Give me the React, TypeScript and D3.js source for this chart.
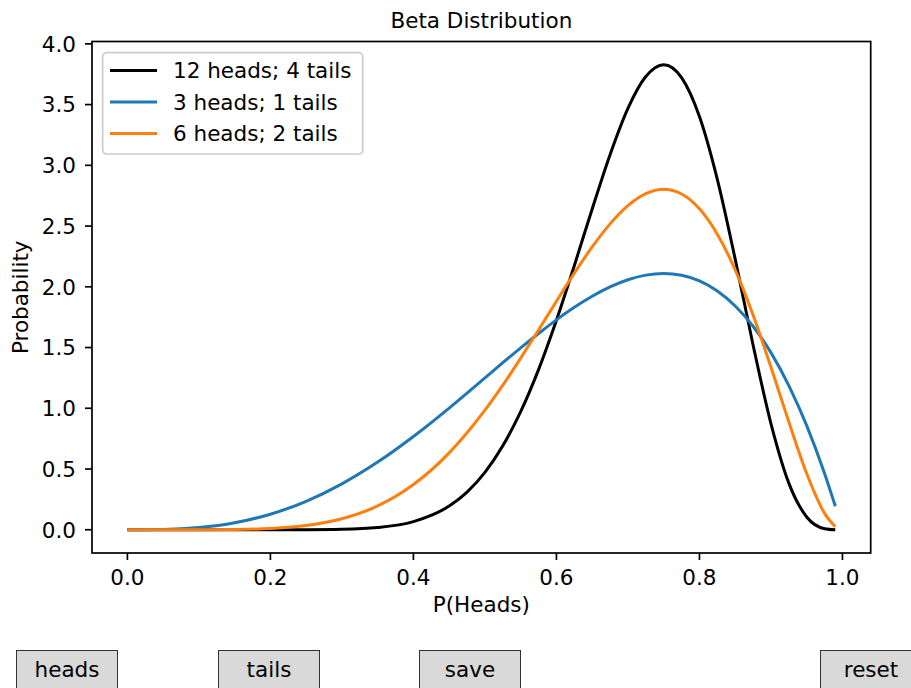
import React from "react";
import * as d3 from "d3";

const xs = [0, 0.05, 0.1, 0.15, 0.2, 0.25, 0.3, 0.35, 0.4, 0.45, 0.475, 0.5, 0.525, 0.55, 0.575, 0.6, 0.625, 0.65, 0.675, 0.7, 0.725, 0.75, 0.775, 0.8, 0.825, 0.85, 0.875, 0.9, 0.925, 0.95, 0.975, 0.99];
const black12h4t = [0, 0, 0, 0, 0.0001, 0.0006, 0.0039, 0.0187, 0.0673, 0.195, 0.31, 0.472, 0.691, 0.972, 1.318, 1.724, 2.174, 2.641, 3.088, 3.469, 3.731, 3.828, 3.722, 3.402, 2.885, 2.228, 1.521, 0.874, 0.384, 0.105, 0.009, 0.0003];
const blue3h1t = [0, 0.0024, 0.018, 0.0574, 0.128, 0.234, 0.378, 0.557, 0.768, 1.002, 1.125, 1.25, 1.375, 1.497, 1.616, 1.728, 1.831, 1.922, 1.999, 2.058, 2.096, 2.109, 2.095, 2.048, 1.965, 1.842, 1.675, 1.458, 1.187, 0.857, 0.463, 0.194];
const orange6h2t = [0, 0, 0.0002, 0.0021, 0.0103, 0.0346, 0.09, 0.196, 0.372, 0.633, 0.798, 0.984, 1.19, 1.413, 1.645, 1.881, 2.112, 2.328, 2.518, 2.668, 2.767, 2.803, 2.764, 2.642, 2.433, 2.139, 1.767, 1.339, 0.888, 0.463, 0.135, 0.024];

const seriesNames = ["12 heads; 4 tails", "3 heads; 1 tails", "6 heads; 2 tails"];
const seriesColors = ["#000000", "#1f77b4", "#ff7f0e"];
const xTicks = [0, 0.2, 0.4, 0.6, 0.8, 1.0];
const yTicks = [0, 0.5, 1.0, 1.5, 2.0, 2.5, 3.0, 3.5, 4.0];
const buttonLabels = ["heads", "tails", "save", "reset"];
const buttonLefts = [16, 218, 419, 820];

const W = 911;
const H = 688;
const FONT = "DejaVu Sans, sans-serif";
const FS = 21.5;

export default function App() {
  const left = 92, right = 870.7, top = 41.5, bottom = 553;
  const x = d3.scaleLinear().domain([-0.0495, 1.0395]).range([left, right]);
  const y = d3.scaleLinear().domain([-0.1914, 4.0194]).range([bottom, top]);
  const line = d3
    .line<[number, number]>()
    .x((d) => x(d[0]))
    .y((d) => y(d[1]))
    .curve(d3.curveMonotoneX);
  const series = [black12h4t, blue3h1t, orange6h2t];
  const cx = (left + right) / 2;
  const cy = (top + bottom) / 2;

  return (
    <svg
      width={W}
      height={H}
      style={{ position: "absolute", left: 0, top: 0, background: "#fff" }}
      fontFamily={FONT}
    >
      <rect x={0} y={0} width={W} height={H} fill="#fff" />
      <clipPath id="plotclip">
        <rect x={left} y={top} width={right - left} height={bottom - top} />
      </clipPath>
      <g clipPath="url(#plotclip)">
        {series.map((vals, i) => (
          <path
            key={i}
            d={line(xs.map((xv, j) => [xv, vals[j]] as [number, number])) || ""}
            fill="none"
            stroke={seriesColors[i]}
            strokeWidth={3}
            strokeLinejoin="round"
            strokeLinecap="butt"
          />
        ))}
      </g>
      <rect x={left} y={top} width={right - left} height={bottom - top} fill="none" stroke="#000" strokeWidth={1.7} />
      {xTicks.map((t) => (
        <g key={"x" + t}>
          <line x1={x(t)} x2={x(t)} y1={bottom} y2={bottom + 7} stroke="#000" strokeWidth={1.7} />
          <text x={x(t)} y={585} fontSize={FS} textAnchor="middle" fill="#000">
            {t.toFixed(1)}
          </text>
        </g>
      ))}
      {yTicks.map((t) => (
        <g key={"y" + t}>
          <line x1={left - 7} x2={left} y1={y(t)} y2={y(t)} stroke="#000" strokeWidth={1.7} />
          <text x={76} y={y(t) + 7.8} fontSize={FS} textAnchor="end" fill="#000">
            {t.toFixed(1)}
          </text>
        </g>
      ))}
      <text x={cx} y={27.5} fontSize={FS} textAnchor="middle" fill="#000">
        Beta Distribution
      </text>
      <text x={cx} y={612} fontSize={FS} textAnchor="middle" fill="#000">
        P(Heads)
      </text>
      <text
        transform={`translate(28,${cy}) rotate(-90)`}
        fontSize={FS}
        textAnchor="middle"
        fill="#000"
      >
        Probability
      </text>
      <rect x={102.7} y={52.7} width={260} height={101.3} rx={4} ry={4} fill="#fff" fillOpacity={0.8} stroke="#cccccc" strokeWidth={1.7} />
      {seriesNames.map((name, i) => {
        const ry = 70.5 + i * 31.5;
        return (
          <g key={name}>
            <line x1={110} x2={157} y1={ry} y2={ry} stroke={seriesColors[i]} strokeWidth={3} />
            <text x={173} y={ry + 7.8} fontSize={FS} fill="#000">
              {name}
            </text>
          </g>
        );
      })}
      {buttonLabels.map((b, i) => (
        <g key={b}>
          <rect x={buttonLefts[i] + 0.5} y={650.5} width={101} height={50} fill="#d9d9d9" stroke="#333" strokeWidth={1} />
          <text x={buttonLefts[i] + 51} y={676.5} fontSize={FS} textAnchor="middle" fill="#000">
            {b}
          </text>
        </g>
      ))}
    </svg>
  );
}
